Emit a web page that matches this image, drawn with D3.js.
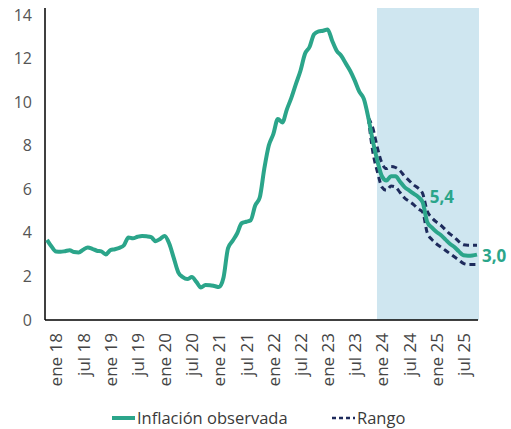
<!DOCTYPE html>
<html>
<head>
<meta charset="utf-8">
<script src="https://cdn.jsdelivr.net/npm/d3@7"></script>
<style>
  body { margin: 0; background: #fff; }
  svg { display: block; font-family: "Open Sans", sans-serif; }
</style>
</head>
<body>
<div id="chart"></div>
<script>
// monthly, ene 18 .. dic 25 (96 points); observed up to dic 23, then central path
var inflacion = [
  3.68, 3.37, 3.14, 3.13, 3.16, 3.20, 3.12, 3.10, 3.23, 3.33, 3.27, 3.18,
  3.15, 3.01, 3.21, 3.25, 3.31, 3.43, 3.79, 3.75, 3.82, 3.86, 3.84, 3.80,
  3.62, 3.72, 3.86, 3.51, 2.85, 2.19, 1.97, 1.88, 1.97, 1.75, 1.49, 1.61,
  1.60, 1.56, 1.51, 1.95, 3.30, 3.63, 3.97, 4.44, 4.51, 4.58, 5.26, 5.62,
  6.94, 8.01, 8.53, 9.23, 9.07, 9.67, 10.21, 10.84, 11.44, 12.22, 12.53, 13.12,
  13.25, 13.28, 13.34, 12.82, 12.36, 12.13, 11.78, 11.43, 10.99, 10.48, 10.15, 9.28,
  8.2, 7.3, 6.6, 6.4, 6.6, 6.6, 6.35, 6.1, 5.95, 5.8, 5.65, 5.4,
  4.5, 4.25, 4.05, 3.9, 3.7, 3.5, 3.35, 3.15, 2.97, 2.95, 2.96, 3.0
];
// range, dic 23 .. dic 25
var rangoInicio = 71;
var rangoSup = [9.28, 8.8, 7.9, 7.2, 6.95, 7.05, 7.0, 6.85, 6.6, 6.4, 6.2, 6.05, 5.8,
  5.0, 4.7, 4.5, 4.35, 4.15, 3.95, 3.8, 3.6, 3.45, 3.43, 3.43, 3.43];
var rangoInf = [9.28, 7.7, 6.8, 6.1, 5.95, 6.15, 6.1, 5.85, 5.6, 5.45, 5.3, 5.1, 4.95,
  4.0, 3.7, 3.5, 3.35, 3.2, 3.05, 2.9, 2.75, 2.6, 2.55, 2.55, 2.55];

var xLabels = ["ene 18", "jul 18", "ene 19", "jul 19", "ene 20", "jul 20", "ene 21", "jul 21",
  "ene 22", "jul 22", "ene 23", "jul 23", "ene 24", "jul 24", "ene 25", "jul 25"];
var yTicks = [0, 2, 4, 6, 8, 10, 12, 14];
var pronosticoDesde = 72.9; // shaded forecast zone
var etiquetas = [{i: 83, txt: "5,4"}, {i: 95, txt: "3,0"}];

var VERDE = "#2ba58a";
var AZUL = "#1e2b5c";

var W = 511, H = 429;
var svg = d3.select("#chart").append("svg").attr("width", W).attr("height", H);

var x = d3.scaleLinear().domain([0, inflacion.length - 1]).range([47, 477]);
var y = d3.scaleLinear().domain([0, 14]).range([320, 15]);

// shaded zone
svg.append("rect")
  .attr("x", x(pronosticoDesde))
  .attr("y", 8)
  .attr("width", 479 - x(pronosticoDesde))
  .attr("height", y(0) - 8)
  .attr("fill", "#cfe6f0");

// y axis
var yAxis = svg.append("g")
  .attr("transform", "translate(45,0)")
  .call(d3.axisLeft(y).tickValues(yTicks).tickSize(0).tickPadding(13));
yAxis.select(".domain").remove();
yAxis.selectAll("text").attr("font-size", 16).attr("fill", "#555").attr("font-family", "Open Sans");

// x axis labels
var xAxis = svg.append("g")
  .attr("transform", "translate(0," + y(0) + ")")
  .call(d3.axisBottom(x)
    .tickValues(d3.range(0, 91, 6))
    .tickFormat(function(d) { return xLabels[d / 6]; })
    .tickSize(0));
xAxis.select(".domain").remove();
xAxis.selectAll("text")
  .attr("transform", "rotate(-90)")
  .attr("text-anchor", "end")
  .attr("x", -13)
  .attr("y", 9)
  .attr("dy", "0.35em")
  .attr("font-size", 17)
  .attr("fill", "#444")
  .attr("font-family", "Open Sans");

// axis lines
svg.append("line").attr("x1", 45).attr("x2", 45).attr("y1", 8).attr("y2", y(0))
  .attr("stroke", "#000").attr("stroke-width", 1.5);
svg.append("line").attr("x1", 45).attr("x2", 478).attr("y1", y(0)).attr("y2", y(0))
  .attr("stroke", "#000").attr("stroke-width", 1.5);

var line = d3.line()
  .x(function(d) { return x(d[0]); })
  .y(function(d) { return y(d[1]); })
  .curve(d3.curveMonotoneX);

function serie(arr, start) {
  return arr.map(function(v, i) { return [start + i, v]; });
}

[rangoSup, rangoInf].forEach(function(r) {
  svg.append("path")
    .attr("d", line(serie(r, rangoInicio)))
    .attr("fill", "none")
    .attr("stroke", AZUL)
    .attr("stroke-width", 3)
    .attr("stroke-dasharray", "6,4");
});

svg.append("path")
  .attr("d", line(serie(inflacion, 0)))
  .attr("fill", "none")
  .attr("stroke", VERDE)
  .attr("stroke-width", 4)
  .attr("stroke-linejoin", "round");

// value labels
svg.selectAll(".lbl").data(etiquetas).enter().append("text")
  .attr("class", "lbl")
  .attr("x", function(d) { return d.i === 95 ? x(d.i) + 5 : x(d.i) + 7; })
  .attr("y", function(d) { return d.i === 95 ? y(inflacion[d.i]) + 1 : y(inflacion[d.i]) - 5; })
  .attr("dy", "0.35em")
  .attr("font-size", 17)
  .attr("font-weight", "bold")
  .attr("fill", VERDE)
  .text(function(d) { return d.txt; });

// legend
var leg = svg.append("g").attr("font-size", 16.5).attr("fill", "#3a3a3a");
leg.append("line").attr("x1", 112).attr("x2", 135).attr("y1", 418).attr("y2", 418)
  .attr("stroke", VERDE).attr("stroke-width", 4);
leg.append("text").attr("x", 137).attr("y", 418).attr("dy", "0.35em").text("Inflación observada");
leg.append("line").attr("x1", 332).attr("x2", 355).attr("y1", 418).attr("y2", 418)
  .attr("stroke", AZUL).attr("stroke-width", 2.5).attr("stroke-dasharray", "4,3");
leg.append("text").attr("x", 357).attr("y", 418).attr("dy", "0.35em").text("Rango");
</script>
</body>
</html>
